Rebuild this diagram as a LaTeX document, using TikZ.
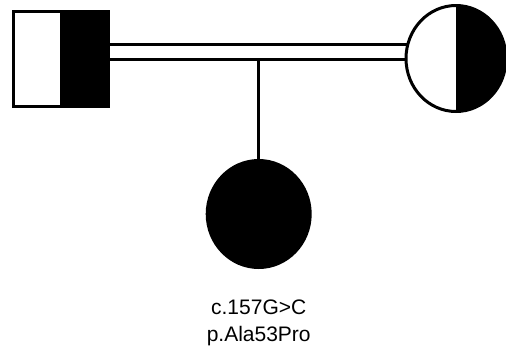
\documentclass[tikz,border=0pt]{standalone}
\usepackage{fontspec}
\setmainfont{Liberation Sans}
\usetikzlibrary{shapes.geometric}
\begin{document}
\begin{tikzpicture}[x=1pt,y=-1pt,
  outline/.style={draw=black,line width=3pt},
  link/.style={draw=black,line width=3pt},
  lbl/.style={font=\fontsize{21}{27}\selectfont,align=center,inner sep=0pt}]
\useasboundingbox (0,0) rectangle (506,354);
% father
\fill[black] (60,11.5) rectangle (108.5,106.5);
\node[outline,fill=none,minimum width=95pt,minimum height=95pt,inner sep=0pt] (father) at (61,59) {};
% mother
\begin{scope}
\clip (456,4) rectangle (510,114);
\fill[black] (456,58.5) ellipse [x radius=50pt,y radius=53pt];
\end{scope}
\node[outline,ellipse,minimum width=100pt,minimum height=106pt,inner sep=0pt] (mother) at (456,58.5) {};
% marriage lines
\coordinate (fa1) at (108.5,44.3);
\coordinate (fa2) at (108.5,59);
\coordinate (mo1) at (407,44.3);
\coordinate (mo2) at (406,59);
\draw[link] (fa1) -- (mo1);
\draw[link] (fa2) -- (mo2);
% child
\node[fill=black,ellipse,minimum width=106pt,minimum height=110pt,inner sep=0pt] (child) at (258.7,214) {};
\coordinate (drop) at (258.7,59);
\draw[line width=2.5pt] (drop) -- (child.north);
\node[lbl,anchor=north] (label) at (258.7,300) {c.157G>C\\p.Ala53Pro};
\end{tikzpicture}
\end{document}
